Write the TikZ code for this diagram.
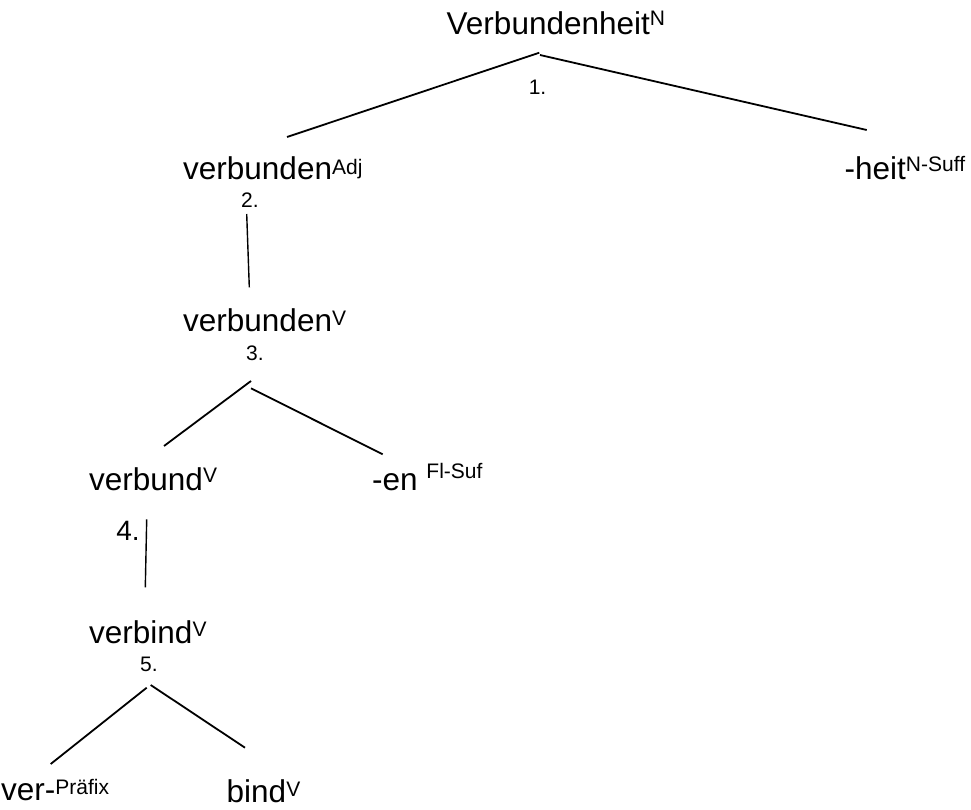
\documentclass[tikz,border=0pt]{standalone}
\usepackage{fontspec}
\setmainfont{Liberation Sans}
\usetikzlibrary{positioning}
\newcommand{\Hoch}[2][7]{\raisebox{#1pt}{\fontsize{21}{21}\selectfont #2}}
\tikzset{
  word/.style={font=\fontsize{31.5}{36}\selectfont, inner sep=0pt, anchor=base west},
  num/.style={font=\fontsize{21}{24}\selectfont, inner sep=0pt, anchor=base},
  branch/.style={line width=1.8pt},
  stem/.style={line width=1.4pt}
}
\begin{document}
\begin{tikzpicture}[x=1pt,y=-1pt]
        \useasboundingbox (0,0) rectangle (971,810);
        %-----------------------------------------------
        \node[word] (A) at (446.5,35) {Verbundenheit\Hoch[9]{N}};
        \node[num] (n1) at (537.5,95) {1.};
        \node[word] (B) at (183,180) {verbunden\Hoch[5]{Adj}};
        \node[word] (H) at (844.5,180) {-heit\Hoch[8]{N-Suff}};
        \coordinate (a1) at (539.3,52.7);
        \coordinate (a2) at (540,55);
        \coordinate (b1) at (287,137);
        \coordinate (h1) at (866.7,130);
        \draw[branch] (a1) -- (b1);
        \draw[branch] (a2) -- (h1);
        %-----------------------------------------------
        \node[num] (n2) at (250,208) {2.};
        \node[word] (C) at (183,331.7) {verbunden\Hoch[6.5]{V}};
        \coordinate (b2) at (246.7,214);
        \coordinate (c1) at (249.3,287.3);
        \draw[stem] (b2) -- (c1);
        %-----------------------------------------------
        \node[num] (n3) at (255,360.7) {3.};
        \node[word] (D) at (89,490) {verbund\Hoch[7.5]{V}};
        \node[word] (E) at (372,490) {-en \Hoch[12]{Fl-Suf}};
        \coordinate (c2) at (251,381);
        \coordinate (c3) at (251,388.3);
        \coordinate (d1) at (164,446);
        \coordinate (e1) at (382.7,454.3);
        \draw[branch] (c2) -- (d1);
        \draw[branch] (c3) -- (e1);
        %-----------------------------------------------
        \node[num,font=\fontsize{28}{32}\selectfont] (n4) at (128,540.7) {4.};
        \node[word] (F) at (89,643.3) {verbind\Hoch[6.5]{V}};
        \coordinate (d2) at (146.7,519.3);
        \coordinate (f1) at (145.3,587.3);
        \draw[stem] (d2) -- (f1);
        %-----------------------------------------------
        \node[num] (n5) at (149,671) {5.};
        \node[word] (G) at (1,800.7) {ver-\Hoch[6]{Präfix}};
        \node[word] (I) at (226.5,802) {bind\Hoch[6]{V}};
        \coordinate (f2) at (146.7,687.7);
        \coordinate (f3) at (150.7,685);
        \coordinate (g1) at (50.7,764);
        \coordinate (i1) at (245,747.7);
        \draw[branch] (f2) -- (g1);
        \draw[branch] (f3) -- (i1);
\end{tikzpicture}
\end{document}
